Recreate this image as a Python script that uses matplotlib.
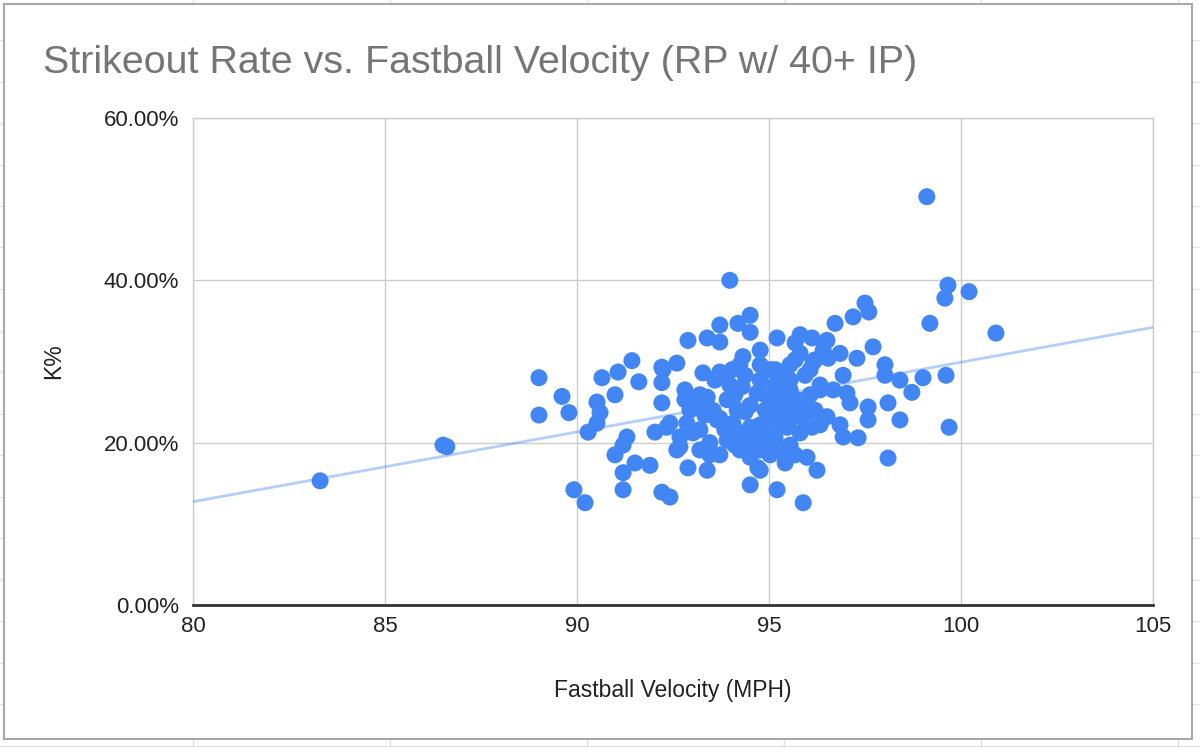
import numpy as np
import matplotlib.pyplot as plt
from matplotlib.lines import Line2D
from matplotlib.patches import Rectangle
from matplotlib.ticker import FuncFormatter

# ---------------- data ----------------
velocity = [
    83.31, 86.51, 86.61, 89.01, 89.01, 89.61, 89.79, 89.92, 90.21, 99.11,
    93.98, 91.43, 91.07, 90.65, 91.61, 90.99, 90.52, 90.60, 90.52, 90.29,
    91.30, 91.20, 90.99, 91.51, 91.90, 91.20, 91.20, 92.21, 92.42, 92.21,
    92.60, 92.21, 92.21, 92.81, 92.81, 92.89, 93.39, 93.72, 93.72, 94.19,
    92.03, 92.34, 92.68, 93.02, 92.60, 92.89, 93.39, 99.66, 99.58, 100.21,
    99.19, 100.91, 97.50, 97.60, 97.19, 96.72, 97.71, 94.51, 94.51, 95.21,
    95.81, 96.12, 96.51, 95.68, 96.20, 96.54, 96.85, 97.29, 98.02, 98.02,
    98.41, 98.72, 99.01, 99.61, 98.10, 98.41, 99.69, 98.10, 96.93, 96.33,
    97.03, 97.11, 97.58, 97.58, 96.51, 96.12, 96.93, 97.32, 95.42, 95.99,
    96.25, 94.51, 95.21, 95.89, 94.71, 94.32, 94.77, 92.24, 93.28, 93.72,
    94.04, 94.30, 95.03, 95.47, 95.81, 96.15, 96.41, 96.33, 93.39, 93.91,
    94.69, 95.21, 95.73, 95.99, 92.42, 92.86, 93.20, 93.65, 94.06, 94.51,
    94.95, 95.47, 95.81, 95.03, 94.17, 93.54, 92.68, 93.46, 93.91, 94.43,
    94.95, 94.51, 94.77, 96.67, 96.85, 93.98, 94.38, 94.77, 95.16, 95.55,
    94.11, 94.51, 94.90, 95.29, 95.68, 93.85, 94.24, 94.77, 95.16, 95.55,
    94.77, 94.24, 93.72, 93.33, 92.94, 93.20, 95.03, 95.42, 96.07, 95.94,
    95.55, 94.77, 93.59, 93.20, 93.72, 94.38, 94.77, 95.16, 95.55, 95.94,
    94.11, 94.64, 95.29, 93.20, 94.90, 95.29, 95.55, 96.20, 93.85, 95.68,
    96.07, 92.94, 95.16, 94.24, 96.33, 93.46, 95.68,
]
k_pct = [
    15.3, 19.7, 19.5, 28.0, 23.4, 25.7, 23.7, 14.2, 12.6, 50.3,
    40.0, 30.1, 28.7, 28.0, 27.5, 25.9, 25.0, 23.7, 22.4, 21.3,
    20.7, 19.7, 18.5, 17.5, 17.2, 16.3, 14.2, 13.9, 13.3, 29.3,
    29.8, 27.4, 24.9, 26.5, 25.3, 32.6, 32.9, 34.5, 32.4, 34.7,
    21.3, 21.9, 20.7, 21.2, 19.1, 16.9, 16.6, 39.4, 37.8, 38.6,
    34.7, 33.5, 37.2, 36.1, 35.5, 34.7, 31.8, 35.7, 33.6, 32.9,
    33.3, 32.9, 32.6, 32.3, 30.2, 30.4, 31.0, 30.4, 29.6, 28.3,
    27.7, 26.2, 28.0, 28.3, 24.9, 22.8, 21.9, 18.1, 28.3, 27.1,
    26.1, 24.9, 24.4, 22.8, 23.2, 21.9, 20.7, 20.6, 17.5, 18.2,
    16.6, 14.8, 14.2, 12.6, 16.9, 30.6, 31.4, 29.0, 28.6, 28.7,
    29.0, 26.9, 29.0, 28.1, 31.0, 29.9, 31.4, 26.5, 25.6, 25.3,
    26.1, 25.6, 25.3, 24.0, 22.4, 22.4, 21.6, 22.8, 22.4, 21.9,
    22.4, 21.9, 21.2, 24.4, 24.0, 24.0, 19.5, 20.0, 20.3, 20.3,
    20.3, 18.2, 16.6, 26.5, 22.2, 27.1, 28.3, 27.7, 27.1, 26.5,
    25.9, 24.6, 24.0, 23.4, 23.4, 21.6, 21.2, 21.2, 20.6, 19.7,
    19.1, 19.1, 18.5, 23.4, 24.0, 19.1, 18.5, 24.6, 25.9, 28.3,
    29.6, 29.6, 27.7, 24.6, 23.0, 23.8, 22.2, 22.2, 22.8, 22.8,
    19.7, 19.7, 19.1, 25.9, 25.9, 25.3, 27.7, 24.0, 28.3, 30.2,
    29.0, 21.6, 29.0, 29.6, 22.2, 18.5, 18.5,
]

# linear trendline as drawn on the chart (K% at the two ends of the x range)
trend_x = [80, 105]
trend_k = [12.73, 34.21]

x_ticks = [80, 85, 90, 95, 100, 105]
y_ticks = [0, 20, 40, 60]

title = "Strikeout Rate vs. Fastball Velocity (RP w/ 40+ IP)"
x_label = "Fastball Velocity (MPH)"
y_label = "K%"

plt.rcParams['font.family'] = ['Liberation Sans', 'DejaVu Sans']

fig = plt.figure(figsize=(12, 7.48), dpi=100)
W, H = 1200, 748

# ---------- spreadsheet cells peeking out behind the chart ----------
for gx in np.arange(193, W, 197):
    fig.add_artist(Line2D([gx / W, gx / W], [0, 1], color='#e2e2e2', lw=1, zorder=0))
for gy in np.arange(40, H, 41.5):
    fig.add_artist(Line2D([0, 1], [1 - gy / H, 1 - gy / H], color='#e2e2e2', lw=1, zorder=0))
fig.add_artist(Rectangle((4 / W, 1 - 739 / H), (1192 - 4) / W, (739 - 4) / H,
                         transform=fig.transFigure, facecolor='white',
                         edgecolor='#a8a8a8', lw=1.5, zorder=1))

# ---------------- plot area ----------------
ax = fig.add_axes([193 / W, 1 - 605 / H, (1153 - 193) / W, (605 - 118) / H])
ax.set_zorder(2)
ax.set_facecolor('white')

ax.scatter(velocity, k_pct, s=150, color='#4285f4', edgecolors='none', zorder=3)
ax.plot(trend_x, trend_k, color='#4285f4', alpha=0.4, lw=2, zorder=4)

ax.set_xlim(80, 105)
ax.set_ylim(0, 60)
ax.set_xticks(x_ticks)
ax.set_yticks(y_ticks)
ax.yaxis.set_major_formatter(FuncFormatter(lambda v, p: f"{v:.2f}%"))
ax.grid(True, color='#cccccc', lw=1, zorder=0)
ax.set_axisbelow(True)
for side in ['top', 'right', 'left']:
    ax.spines[side].set_color('#cccccc')
    ax.spines[side].set_linewidth(1)
ax.spines['bottom'].set_color('#333333')
ax.spines['bottom'].set_linewidth(2)
ax.tick_params(length=0, labelsize=16, colors='#222222', pad=8)
ax.tick_params(axis='y', pad=10)

ax.set_xlabel(x_label, fontsize=16.5, color='#222222', labelpad=30)
ax.set_ylabel(y_label, fontsize=16.5, color='#222222', labelpad=28)

fig.text(43 / W, 1 - 63 / H, title, fontsize=28.4, color='#757575', va='center', ha='left')

fig.savefig('out.png', dpi=100)
